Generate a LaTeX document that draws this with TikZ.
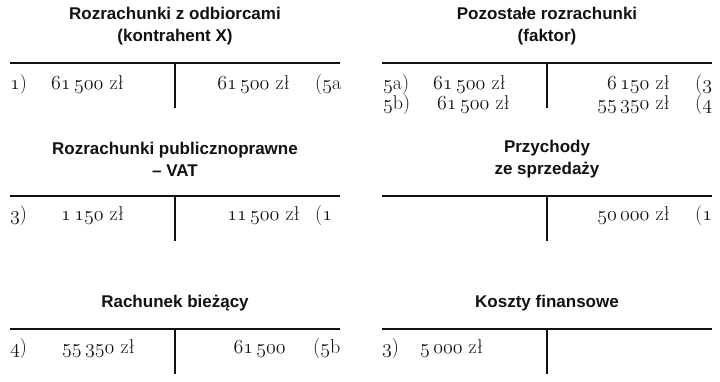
\RequirePackage{fix-cm}
\documentclass[tikz,border=0pt]{standalone}
\usepackage{fontspec}
\usetikzlibrary{positioning, calc}
\newfontfamily\titlefont{Liberation Sans}
\definecolor{kontoink}{HTML}{111111}
\newcommand{\nr}[1]{$\mathnormal{#1}$}
\newcommand{\kwota}[1]{\nr{#1} zł}

\begin{document}
\begin{tikzpicture}[
    x=1pt, y=-1pt,
    title/.style={font=\titlefont\bfseries\fontsize{17}{22}\selectfont, align=center, inner sep=0pt, text=kontoink},
    entry/.style={font=\fontsize{20}{20}\selectfont, inner sep=0pt, anchor=base west, text=kontoink},
    amount/.style={font=\fontsize{20}{20}\selectfont, inner sep=0pt, anchor=base east, text=kontoink},
    tline/.style={line width=2.6pt, kontoink}
]
\useasboundingbox (0,0) rectangle (720,381);

% Rozrachunki z odbiorcami
\node[title] (odbT) at (175,26) {Rozrachunki z odbiorcami\\(kontrahent X)};
\coordinate (odbL) at (10,63);
\coordinate (odbR) at (340,63);
\coordinate (odbM) at (175,63);
\coordinate (odbD) at (175,108);
\draw[tline] (odbL) -- (odbR);
\draw[tline] (odbM) -- (odbD);
\node[entry] (odbA) at (10,89) {\nr{1})};
\node[entry] (odbB) at (51,89) {\kwota{61\,500}};
\node[amount] (odbC) at (290,89) {\kwota{61\,500}};
\node[entry] (odbE) at (315,89) {(\nr{5}a};

% Pozostale rozrachunki
\node[title] (fakT) at (547,26) {Pozostałe rozrachunki\\(faktor)};
\coordinate (fakL) at (382,63);
\coordinate (fakR) at (712,63);
\coordinate (fakM) at (547,63);
\coordinate (fakD) at (547,108);
\draw[tline] (fakL) -- (fakR);
\draw[tline] (fakM) -- (fakD);
\node[entry] (fakA) at (383,89) {\nr{5}a)};
\node[entry] (fakB) at (433,89) {\kwota{61\,500}};
\node[amount] (fakC) at (670,89) {\kwota{6\,150}};
\node[entry] (fakE) at (695,89) {(\nr{3}};
\node[entry] (fakF) at (383,109) {\nr{5}b)};
\node[entry] (fakG) at (437,109) {\kwota{61\,500}};
\node[amount] (fakH) at (670,109) {\kwota{55\,350}};
\node[entry] (fakI) at (695,109) {(\nr{4}};

% VAT
\node[title] (vatT) at (175,159) {Rozrachunki publicznoprawne\\– VAT};
\coordinate (vatL) at (10,196);
\coordinate (vatR) at (340,196);
\coordinate (vatM) at (175,196);
\coordinate (vatD) at (175,241);
\draw[tline] (vatL) -- (vatR);
\draw[tline] (vatM) -- (vatD);
\node[entry] (vatA) at (10,220) {\nr{3})};
\node[entry] (vatB) at (61,220) {\kwota{1\,150}};
\node[amount] (vatC) at (300,220) {\kwota{11\,500}};
\node[entry] (vatE) at (315,220) {(\nr{1}};

% Przychody ze sprzedazy
\node[title] (przT) at (547,159) {Przychody\\ze sprzedaży};
\coordinate (przL) at (382,196);
\coordinate (przR) at (712,196);
\coordinate (przM) at (547,196);
\coordinate (przD) at (547,241);
\draw[tline] (przL) -- (przR);
\draw[tline] (przM) -- (przD);
\node[amount] (przC) at (670,220) {\kwota{50\,000}};
\node[entry] (przE) at (695,220) {(\nr{1}};

% Rachunek biezacy
\node[title] (rbT) at (175,303) {Rachunek bieżący};
\coordinate (rbL) at (10,329);
\coordinate (rbR) at (340,329);
\coordinate (rbM) at (175,329);
\coordinate (rbD) at (175,374);
\draw[tline] (rbL) -- (rbR);
\draw[tline] (rbM) -- (rbD);
\node[entry] (rbA) at (10,353) {\nr{4})};
\node[entry] (rbB) at (62,353) {\kwota{55\,350}};
\node[amount] (rbC) at (286,353) {\nr{61\,500}};
\node[entry] (rbE) at (313,353) {(\nr{5}b};

% Koszty finansowe
\node[title] (kfT) at (547,303) {Koszty finansowe};
\coordinate (kfL) at (382,329);
\coordinate (kfR) at (712,329);
\coordinate (kfM) at (547,329);
\coordinate (kfD) at (547,374);
\draw[tline] (kfL) -- (kfR);
\draw[tline] (kfM) -- (kfD);
\node[entry] (kfA) at (382,353) {\nr{3})};
\node[entry] (kfB) at (420,353) {\kwota{5\,000}};
\end{tikzpicture}
\end{document}
